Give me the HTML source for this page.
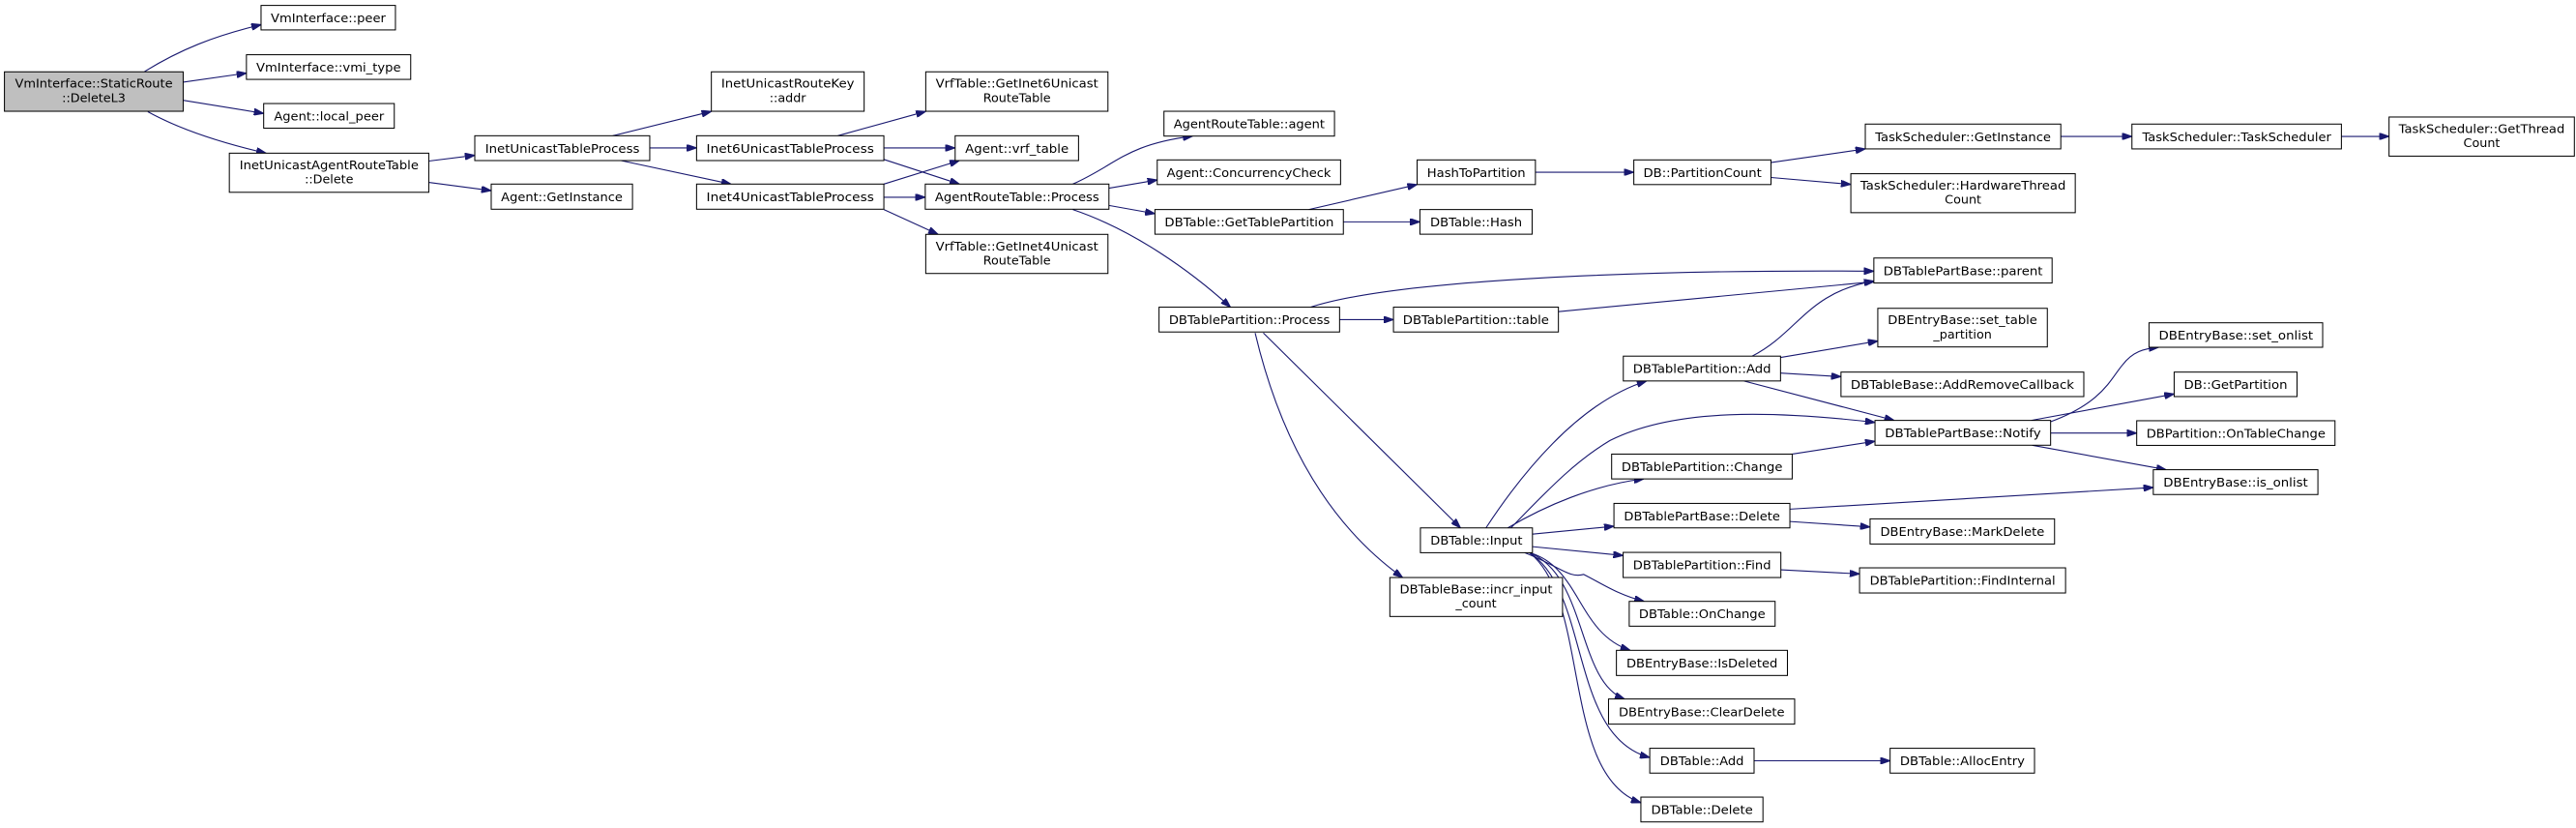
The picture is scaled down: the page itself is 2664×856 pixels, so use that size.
<!DOCTYPE html>
<html><head><meta charset="utf-8"><style>
html,body{margin:0;padding:0;background:#fff;}
svg{display:block;}
</style></head><body>
<svg xmlns="http://www.w3.org/2000/svg" width="2664" height="856" viewBox="0 0 1568 503.8" preserveAspectRatio="none">
<defs>
<marker id="a" viewBox="0 0 10 7" refX="10" refY="3.5" markerUnits="userSpaceOnUse" markerWidth="6" markerHeight="4.2" orient="auto">
<path d="M0,0 L10,3.5 L0,7 z" fill="#191970" stroke="#191970"/>
</marker>
</defs>
<g fill="none" stroke="#191970" stroke-width="0.65" marker-end="url(#a)">
<path d="M88,43.5 C110,30 130,22 159,15"/>
<path d="M111.5,50 L150,44.5"/>
<path d="M111.5,61 L160.5,69"/>
<path d="M90,68 C110,79 135,87 162,93.2"/>
<path d="M261,98 L289,94.5"/>
<path d="M261,111 L299,116"/>
<path d="M373,82.6 L433,67.8"/>
<path d="M395.5,90 L424,90"/>
<path d="M378,97.7 L445,112"/>
<path d="M510,82.6 L563.5,67.8"/>
<path d="M538,90 L581.4,90"/>
<path d="M538,97 L584,112"/>
<path d="M538,112 L584,97.7"/>
<path d="M538,120 L563.2,120"/>
<path d="M538,127.5 L571,142.6"/>
<path d="M653,112 C680,100 685,88 726,82.8"/>
<path d="M675,114.5 L704.4,109.5"/>
<path d="M675,125 L703,130"/>
<path d="M653,127.5 C690,140 725,165 749,186.9"/>
<path d="M796.7,127.5 L862.6,112.3"/>
<path d="M817.7,135 L864.3,135"/>
<path d="M934.6,104.8 L994.5,104.8"/>
<path d="M1077.3,99 L1135.4,90.6"/>
<path d="M1078,108 L1126.6,112.2"/>
<path d="M1254.4,83 L1297.7,83"/>
<path d="M1425.2,83 L1454.2,83"/>
<path d="M797.8,186.9 C850,170 1000,164 1140.6,165"/>
<path d="M815.4,194.5 L848.2,194.5"/>
<path d="M948.6,189.6 L1140.6,171.4"/>
<path d="M1066.5,216.7 C1095,202 1100,178 1140.6,171"/>
<path d="M1083.8,217.5 L1143,207.5"/>
<path d="M1083.8,227 L1120.6,229.2"/>
<path d="M1061.5,231.8 L1153,255.8"/>
<path d="M919.7,321.2 C945,295 960,280 980,268 C1020,248 1080,250 1141.3,257"/>
<path d="M904.5,321.2 C925,290 960,245 1002.3,231.8"/>
<path d="M917.8,321.2 C940,308 970,295 1000.6,291.4"/>
<path d="M1090.9,276.3 L1141.3,268.5"/>
<path d="M932.8,325 L982.4,320.2"/>
<path d="M1089.5,309.8 L1310.7,296.6"/>
<path d="M1248.2,256.6 C1280,245 1285,230 1292,222 C1298,214 1305,212 1314,211.3"/>
<path d="M1236.4,255.8 L1323.4,239.7"/>
<path d="M1248.2,263.5 L1300.6,263.5"/>
<path d="M1237,270.9 L1318.5,285.8"/>
<path d="M1089.5,317.3 L1138.3,320.6"/>
<path d="M932.8,332.6 L988,338"/>
<path d="M1084,346.7 L1131.9,349.2"/>
<path d="M928.1,336.3 C950,345 955,352 964,349.5 C975,355 985,362 1000.8,365.9"/>
<path d="M931,336.3 C962,345 960,385 992.3,395.7"/>
<path d="M931,336.3 C966,350 960,415 988.9,425.3"/>
<path d="M931,336.3 C968,360 955,448 1004.2,460.9"/>
<path d="M931,336.3 C968,365 950,472 998.8,488.4"/>
<path d="M1067.7,462.9 L1150.5,462.9"/>
<path d="M769,202.6 L889,321.2"/>
<path d="M764,202.6 C780,270 810,320 853.8,351.4"/>
</g>
<g stroke="#000" stroke-width="0.6" fill="#fff">
<rect x="2.7" y="43.7" width="108.8" height="24" fill="#bfbfbf"/>
<rect x="158.9" y="3.3" width="81.8" height="14.9"/>
<rect x="150" y="33.3" width="100" height="15"/>
<rect x="160.5" y="63" width="79.5" height="15"/>
<rect x="139.6" y="93.2" width="121.4" height="23.8"/>
<rect x="299" y="112" width="86" height="15.3"/>
<rect x="289" y="82.6" width="106.5" height="15.1"/>
<rect x="433" y="43.7" width="93" height="24"/>
<rect x="424" y="82.6" width="114" height="15.1"/>
<rect x="424" y="112" width="114" height="15.3"/>
<rect x="563.5" y="43.7" width="110.9" height="24"/>
<rect x="581.4" y="82.6" width="75.1" height="15.1"/>
<rect x="563.5" y="142.6" width="110.9" height="23.8"/>
<rect x="563.2" y="112" width="111.8" height="15.3"/>
<rect x="708.5" y="67.7" width="103.8" height="15.1"/>
<rect x="704.4" y="97.3" width="111.6" height="15"/>
<rect x="703" y="127.5" width="114.7" height="15"/>
<rect x="862.6" y="97.3" width="72" height="15"/>
<rect x="864.3" y="127.5" width="68.3" height="15"/>
<rect x="994.5" y="97.3" width="83.5" height="15"/>
<rect x="1135.4" y="75.5" width="119" height="15.1"/>
<rect x="1297.7" y="75.5" width="127.5" height="15.1"/>
<rect x="1454.2" y="71.2" width="112.8" height="23.8"/>
<rect x="1126.6" y="105.7" width="136.6" height="23.7"/>
<rect x="1140.6" y="157" width="108.5" height="15.2"/>
<rect x="705.5" y="186.9" width="109.9" height="15.1"/>
<rect x="848.2" y="186.9" width="100.4" height="15.1"/>
<rect x="988.1" y="216.7" width="95.7" height="15.1"/>
<rect x="981" y="276.3" width="109.9" height="15.1"/>
<rect x="982.4" y="306.3" width="107.1" height="14.9"/>
<rect x="1143" y="187.6" width="103.2" height="23.5"/>
<rect x="1120.6" y="226.4" width="147.8" height="14.9"/>
<rect x="1141.3" y="255.8" width="106.9" height="15.1"/>
<rect x="1308.1" y="196.4" width="105.7" height="14.9"/>
<rect x="1323.4" y="226.4" width="74.8" height="14.9"/>
<rect x="1300.6" y="256" width="120.7" height="15"/>
<rect x="1310.7" y="285.8" width="100.2" height="15.1"/>
<rect x="1138.3" y="315.7" width="112.3" height="15.3"/>
<rect x="864.6" y="321.2" width="68.2" height="15.1"/>
<rect x="846" y="351.4" width="105.1" height="23.7"/>
<rect x="988" y="336.1" width="96" height="15.3"/>
<rect x="1131.9" y="345.5" width="125.4" height="15.3"/>
<rect x="991.7" y="365.9" width="88.8" height="15.1"/>
<rect x="983.9" y="395.7" width="104.1" height="15.3"/>
<rect x="979.1" y="425.3" width="113.3" height="15.3"/>
<rect x="1004.2" y="455.3" width="63.5" height="15.1"/>
<rect x="1150.5" y="455.3" width="87.9" height="15.1"/>
<rect x="998.8" y="485" width="74.3" height="15.1"/>
</g>
<g font-family="'DejaVu Sans', 'Liberation Sans', sans-serif" font-size="7.5" fill="#000" text-anchor="middle">
<text x="57.1" y="53.4" textLength="96" lengthAdjust="spacingAndGlyphs">VmInterface::StaticRoute</text>
<text x="57.1" y="62">::DeleteL3</text>
<text x="199.8" y="13.5" textLength="70" lengthAdjust="spacingAndGlyphs">VmInterface::peer</text>
<text x="200" y="43.6" textLength="88" lengthAdjust="spacingAndGlyphs">VmInterface::vmi_type</text>
<text x="200.3" y="73.3" textLength="67" lengthAdjust="spacingAndGlyphs">Agent::local_peer</text>
<text x="200.3" y="102.9" textLength="109" lengthAdjust="spacingAndGlyphs">InetUnicastAgentRouteTable</text>
<text x="200.3" y="111.5">::Delete</text>
<text x="342" y="122.4" textLength="74" lengthAdjust="spacingAndGlyphs">Agent::GetInstance</text>
<text x="342.3" y="92.9" textLength="94" lengthAdjust="spacingAndGlyphs">InetUnicastTableProcess</text>
<text x="479.5" y="53.4" textLength="81" lengthAdjust="spacingAndGlyphs">InetUnicastRouteKey</text>
<text x="479.5" y="62">::addr</text>
<text x="481" y="92.9" textLength="102" lengthAdjust="spacingAndGlyphs">Inet6UnicastTableProcess</text>
<text x="481" y="122.4" textLength="102" lengthAdjust="spacingAndGlyphs">Inet4UnicastTableProcess</text>
<text x="619" y="53.4" textLength="99" lengthAdjust="spacingAndGlyphs">VrfTable::GetInet6Unicast</text>
<text x="619" y="62">RouteTable</text>
<text x="619" y="92.9" textLength="63" lengthAdjust="spacingAndGlyphs">Agent::vrf_table</text>
<text x="619" y="152.3" textLength="99" lengthAdjust="spacingAndGlyphs">VrfTable::GetInet4Unicast</text>
<text x="619" y="160.9">RouteTable</text>
<text x="619.1" y="122.4" textLength="100" lengthAdjust="spacingAndGlyphs">AgentRouteTable::Process</text>
<text x="760.4" y="78" textLength="92" lengthAdjust="spacingAndGlyphs">AgentRouteTable::agent</text>
<text x="760.2" y="107.6" textLength="100" lengthAdjust="spacingAndGlyphs">Agent::ConcurrencyCheck</text>
<text x="760.4" y="137.8" textLength="103" lengthAdjust="spacingAndGlyphs">DBTable::GetTablePartition</text>
<text x="898.6" y="107.6" textLength="60" lengthAdjust="spacingAndGlyphs">HashToPartition</text>
<text x="898.5" y="137.8" textLength="56" lengthAdjust="spacingAndGlyphs">DBTable::Hash</text>
<text x="1036.3" y="107.6" textLength="72" lengthAdjust="spacingAndGlyphs">DB::PartitionCount</text>
<text x="1194.9" y="85.8" textLength="107" lengthAdjust="spacingAndGlyphs">TaskScheduler::GetInstance</text>
<text x="1361.5" y="85.8" textLength="115" lengthAdjust="spacingAndGlyphs">TaskScheduler::TaskScheduler</text>
<text x="1510.6" y="80.9" textLength="101" lengthAdjust="spacingAndGlyphs">TaskScheduler::GetThread</text>
<text x="1510.6" y="89.5">Count</text>
<text x="1194.9" y="115.4" textLength="125" lengthAdjust="spacingAndGlyphs">TaskScheduler::HardwareThread</text>
<text x="1194.9" y="124">Count</text>
<text x="1194.9" y="167.4" textLength="97" lengthAdjust="spacingAndGlyphs">DBTablePartBase::parent</text>
<text x="760.5" y="197.2" textLength="98" lengthAdjust="spacingAndGlyphs">DBTablePartition::Process</text>
<text x="898.4" y="197.2" textLength="89" lengthAdjust="spacingAndGlyphs">DBTablePartition::table</text>
<text x="1036" y="227" textLength="84" lengthAdjust="spacingAndGlyphs">DBTablePartition::Add</text>
<text x="1036" y="286.6" textLength="98" lengthAdjust="spacingAndGlyphs">DBTablePartition::Change</text>
<text x="1036" y="316.5" textLength="95" lengthAdjust="spacingAndGlyphs">DBTablePartBase::Delete</text>
<text x="1194.6" y="197.3" textLength="91" lengthAdjust="spacingAndGlyphs">DBEntryBase::set_table</text>
<text x="1194.6" y="205.9">_partition</text>
<text x="1194.5" y="236.6" textLength="136" lengthAdjust="spacingAndGlyphs">DBTableBase::AddRemoveCallback</text>
<text x="1194.8" y="266.1" textLength="95" lengthAdjust="spacingAndGlyphs">DBTablePartBase::Notify</text>
<text x="1361" y="206.6" textLength="94" lengthAdjust="spacingAndGlyphs">DBEntryBase::set_onlist</text>
<text x="1360.8" y="236.6" textLength="63" lengthAdjust="spacingAndGlyphs">DB::GetPartition</text>
<text x="1361" y="266.3" textLength="109" lengthAdjust="spacingAndGlyphs">DBPartition::OnTableChange</text>
<text x="1360.8" y="296.1" textLength="88" lengthAdjust="spacingAndGlyphs">DBEntryBase::is_onlist</text>
<text x="1194.5" y="326.1" textLength="100" lengthAdjust="spacingAndGlyphs">DBEntryBase::MarkDelete</text>
<text x="898.7" y="331.5" textLength="56" lengthAdjust="spacingAndGlyphs">DBTable::Input</text>
<text x="898.5" y="361.1" textLength="93" lengthAdjust="spacingAndGlyphs">DBTableBase::incr_input</text>
<text x="898.5" y="369.7">_count</text>
<text x="1036" y="346.5" textLength="84" lengthAdjust="spacingAndGlyphs">DBTablePartition::Find</text>
<text x="1194.6" y="355.9" textLength="113" lengthAdjust="spacingAndGlyphs">DBTablePartition::FindInternal</text>
<text x="1036.1" y="376.2" textLength="77" lengthAdjust="spacingAndGlyphs">DBTable::OnChange</text>
<text x="1036" y="406.1" textLength="92" lengthAdjust="spacingAndGlyphs">DBEntryBase::IsDeleted</text>
<text x="1035.8" y="435.7" textLength="101" lengthAdjust="spacingAndGlyphs">DBEntryBase::ClearDelete</text>
<text x="1036" y="465.6" textLength="51" lengthAdjust="spacingAndGlyphs">DBTable::Add</text>
<text x="1194.5" y="465.6" textLength="76" lengthAdjust="spacingAndGlyphs">DBTable::AllocEntry</text>
<text x="1036" y="495.3" textLength="62" lengthAdjust="spacingAndGlyphs">DBTable::Delete</text>
</g>
</svg>
</body></html>
